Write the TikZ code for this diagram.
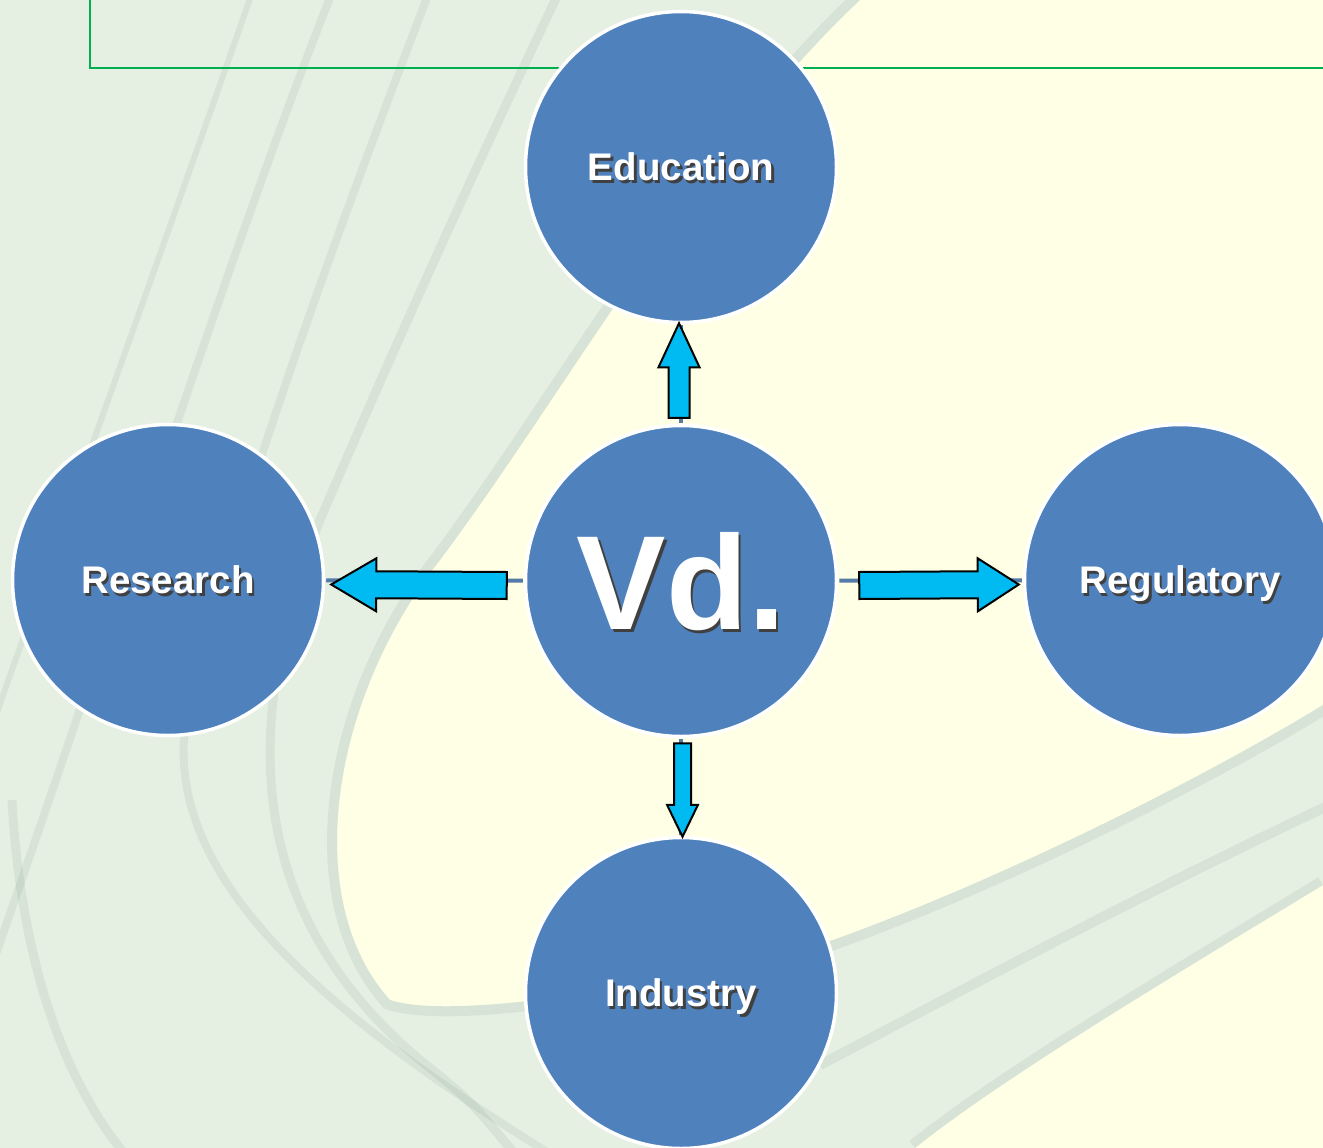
\documentclass[tikz,border=0pt]{standalone}
\usepackage{fontspec}
\setmainfont{Liberation Sans}
\usetikzlibrary{calc}
\definecolor{cream}{RGB}{255,255,230}
\definecolor{bandc}{RGB}{229,240,226}
\definecolor{stripec}{RGB}{110,140,130}
\definecolor{circblue}{RGB}{79,129,189}
\definecolor{arrowcyan}{RGB}{0,186,242}
\definecolor{greenline}{RGB}{0,176,80}
\definecolor{connblue}{RGB}{84,122,170}
\newcommand\shtext[2]{{\fontsize{#1}{#1}\selectfont\bfseries\makebox[0pt][l]{\hspace{2.5pt}\raisebox{-2.5pt}{\color{black!75}#2}}#2}}
\newcommand\blockarrow[5]{%
  \coordinate (bah) at ($(#2)!#5!(#1)$);
  \draw[barrow] ($(#1)!#3!90:(#2)$) -- ($(bah)!#3!90:(#2)$) -- ($(bah)!#4!90:(#2)$) -- (#2)
    -- ($(bah)!#4!-90:(#2)$) -- ($(bah)!#3!-90:(#2)$) -- ($(#1)!#3!-90:(#2)$) -- cycle;}
\begin{document}
\begin{tikzpicture}[x=1pt,y=-1pt,
  circ/.style={circle, fill=circblue, draw=white, line width=3.5pt, minimum size=311pt, inner sep=0pt, text=white, text depth=0pt},
  barrow/.style={fill=arrowcyan, draw=black, line width=2pt, line join=miter},
  conn/.style={draw=connblue, line width=4pt, shorten >=1pt, shorten <=1pt},
  stripe/.style={draw=stripec, opacity=0.12}]
\useasboundingbox (0,0) rectangle (1323,1148);
% background
\fill[cream] (0,0) rectangle (1323,1148);
\fill[bandc] (0,0) -- (860,0) .. controls (700,150) and (560,400) .. (440,560)
  .. controls (330,700) and (300,900) .. (390,1000) .. controls (450,1020) and (650,990) .. (833,940)
  .. controls (1000,880) and (1200,780) .. (1323,705) -- (1323,885)
  .. controls (1150,990) and (1000,1080) .. (915,1148) -- (0,1148) -- cycle;
\begin{scope}
\clip (0,0) -- (860,0) .. controls (700,150) and (560,400) .. (440,560)
  .. controls (330,700) and (300,900) .. (390,1000) .. controls (450,1020) and (650,990) .. (833,940)
  .. controls (1000,880) and (1200,780) .. (1323,705) -- (1323,885)
  .. controls (1150,990) and (1000,1080) .. (915,1148) -- (0,1148) -- cycle;
\draw[stripe, line width=20pt] (860,0) .. controls (700,150) and (560,400) .. (440,560)
  .. controls (330,700) and (300,900) .. (390,1000) .. controls (450,1020) and (650,990) .. (833,940)
  .. controls (1000,880) and (1200,780) .. (1323,705);
\draw[stripe, line width=18pt] (1323,885) .. controls (1150,990) and (1000,1080) .. (915,1148);
\draw[stripe, line width=8pt] (333,-10) .. controls (230,250) and (120,600) .. (-20,1000);
\draw[stripe, line width=6pt] (253,-10) .. controls (180,200) and (90,450) .. (-20,760);
\draw[stripe, line width=8pt] (430,-10) .. controls (330,250) and (240,500) .. (190,700)
  .. controls (150,860) and (300,1000) .. (560,1160);
\draw[stripe, line width=9pt] (560,-10) .. controls (460,200) and (380,380) .. (320,520)
  .. controls (250,700) and (230,900) .. (420,1060) .. controls (470,1100) .. (520,1160);
\draw[stripe, line width=9pt] (12,800) .. controls (20,950) and (60,1080) .. (130,1160);
\draw[stripe, line width=10pt] (820,1065) .. controls (1000,970) and (1150,890) .. (1340,800);
\end{scope}
% frame line
\draw[greenline, line width=2pt] (90,0) -- (90,68) -- (1323,68);
% circles
\node[circ] (edu) at (681,167) {\shtext{38.5pt}{Education}};
\node[circ] (vd)  at (681,581) {\shtext{134pt}{Vd.}};
\node[circ] (res) at (168,580) {\shtext{38.5pt}{Research}};
\node[circ] (reg) at (1180,580) {\shtext{38.5pt}{Regulatory}};
\node[circ] (ind) at (681,993) {\shtext{38.5pt}{Industry}};
% thin connectors
\draw[conn] (vd) -- (res);
\draw[conn] (vd) -- (reg);
\draw[conn] (vd) -- (edu);
\draw[conn] (vd) -- (ind);
% block arrows
\coordinate (upS) at ($(vd.north)+(-2,-6)$);
\coordinate (upT) at ($(edu.south)+(-2,-1)$);
\coordinate (dnS) at ($(vd.south)+(1.5,5)$);
\coordinate (dnT) at ($(ind.north)+(1.5,1)$);
\coordinate (lfS) at ($(vd.west)+(-17,4.5)$);
\coordinate (lfT) at ($(res.east)+(6,4.5)$);
\coordinate (rtS) at ($(vd.east)+(21,4.5)$);
\coordinate (rtT) at ($(reg.west)+(-4,4.5)$);
\blockarrow{upS}{upT}{10.5pt}{20.5pt}{44pt}
\blockarrow{dnS}{dnT}{8.5pt}{15.5pt}{32pt}
\blockarrow{lfS}{lfT}{13.5pt}{26.5pt}{45pt}
\blockarrow{rtS}{rtT}{13.5pt}{26.5pt}{41pt}
\end{tikzpicture}
\end{document}
